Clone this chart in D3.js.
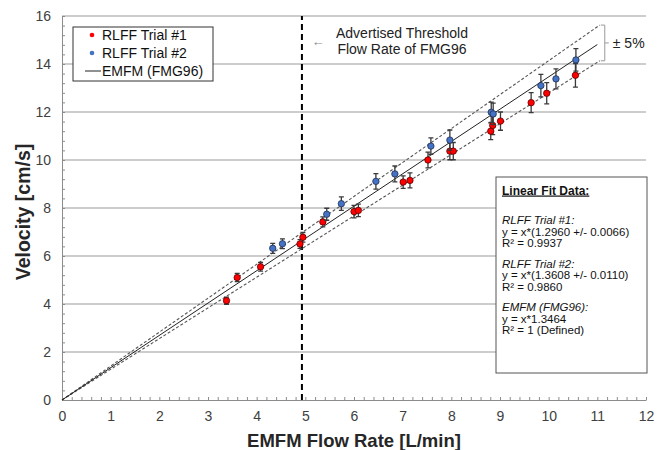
<!DOCTYPE html>
<html>
<head>
<meta charset="utf-8">
<script src="https://cdn.jsdelivr.net/npm/d3@7"></script>
<style>
  body { margin: 0; background: #fff; }
  svg { font-family: "Liberation Sans", Arial, sans-serif; }
</style>
</head>
<body>
<svg id="chart"></svg>
<script>
const width = 665, height = 450, margin = { top: 16, right: 19, bottom: 50, left: 62 };
const plotWidth = width - margin.left - margin.right;
const plotHeight = height - margin.top - margin.bottom;

// RLFF Trial #1 (red)
const trial1X = [3.38, 3.60, 4.08, 4.89, 4.95, 5.36, 6.00, 6.09, 7.01, 7.15, 7.52, 7.97, 8.04, 8.81, 8.85, 9.01, 9.64, 9.96, 10.55];
const trial1Y = [4.14, 5.10, 5.55, 6.50, 6.78, 7.42, 7.85, 7.90, 9.08, 9.15, 10.00, 10.37, 10.37, 11.20, 11.44, 11.62, 12.39, 12.78, 13.53];
const trial1Err = [0.15, 0.17, 0.18, 0.18, 0.20, 0.21, 0.26, 0.26, 0.26, 0.31, 0.33, 0.36, 0.36, 0.35, 0.38, 0.38, 0.42, 0.44, 0.49];

// RLFF Trial #2 (blue)
const trial2X = [4.33, 4.53, 5.44, 5.74, 6.45, 6.84, 7.58, 7.97, 8.82, 8.86, 9.84, 10.15, 10.56];
const trial2Y = [6.32, 6.51, 7.74, 8.18, 9.11, 9.42, 10.58, 10.83, 11.99, 11.92, 13.10, 13.38, 14.17];
const trial2Err = [0.21, 0.20, 0.25, 0.28, 0.32, 0.33, 0.34, 0.42, 0.42, 0.45, 0.47, 0.42, 0.47];

// EMFM reference line and +/- 5% band
const emfmSlope = 1.3464;
const emfmX = [0, 11];
const bandX = [0, 11.05];
const bandFactors = [1.05, 0.95];
const thresholdX = 4.93;

// Text
const legendLabels = ["RLFF Trial #1", "RLFF Trial #2", "EMFM (FMG96)"];
const annotationLines = ["Advertised Threshold", "Flow Rate of FMG96"];
const fitTitle = "Linear Fit Data:";
const fitGroups = [
    ["RLFF Trial #1:", "y = x*(1.2960  +/- 0.0066)", "R² = 0.9937"],
    ["RLFF Trial #2:", "y = x*(1.3608  +/- 0.0110)", "R² = 0.9860"],
    ["EMFM (FMG96):", "y = x*1.3464", "R² = 1 (Defined)"]
];

const trial1 = trial1X.map((x, i) => ({ x, y: trial1Y[i], e: trial1Err[i] }));
const trial2 = trial2X.map((x, i) => ({ x, y: trial2Y[i], e: trial2Err[i] }));

const svg = d3.select("#chart")
    .attr("width", width)
    .attr("height", height)
    .attr("viewBox", [0, 0, width, height]);

const g = svg.append("g")
    .attr("transform", `translate(${margin.left},${margin.top})`);

// Scales
const xScale = d3.scaleLinear().domain([0, 12]).range([0, plotWidth]);
const yScale = d3.scaleLinear().domain([0, 16]).range([plotHeight, 0]);

// Gridlines
g.append("g")
    .selectAll("line")
    .data(d3.range(2, 17, 2))
    .enter()
    .append("line")
    .attr("x1", 0)
    .attr("x2", plotWidth)
    .attr("y1", d => yScale(d))
    .attr("y2", d => yScale(d))
    .attr("stroke", "#bdbdbd")
    .attr("stroke-width", 1.3);

// Minor ticks (inside)
g.append("g")
    .attr("transform", `translate(0,${plotHeight})`)
    .call(d3.axisBottom(xScale).tickValues(d3.range(0, 12.001, 0.2)).tickSizeInner(-3).tickSizeOuter(0).tickFormat(""))
    .call(a => a.selectAll("line").attr("stroke", "#8c8c8c"))
    .call(a => a.select(".domain").attr("stroke", "#8c8c8c"));

g.append("g")
    .call(d3.axisLeft(yScale).tickValues(d3.range(0, 16.001, 0.4)).tickSizeInner(-3).tickSizeOuter(0).tickFormat(""))
    .call(a => a.selectAll("line").attr("stroke", "#8c8c8c"))
    .call(a => a.select(".domain").attr("stroke", "#8c8c8c"));

// Tick labels
g.append("g")
    .attr("transform", `translate(0,${plotHeight})`)
    .call(d3.axisBottom(xScale).ticks(12).tickSize(0).tickPadding(11))
    .call(a => a.select(".domain").remove())
    .call(a => a.selectAll("text").attr("font-size", 14).attr("fill", "#404040").attr("font-family", null));

g.append("g")
    .call(d3.axisLeft(yScale).tickValues(d3.range(0, 17, 2)).tickSize(0).tickPadding(11))
    .call(a => a.select(".domain").remove())
    .call(a => a.selectAll("text").attr("font-size", 14).attr("fill", "#404040").attr("font-family", null));

// Axis titles
svg.append("text")
    .attr("x", 354)
    .attr("y", 447)
    .attr("text-anchor", "middle")
    .attr("font-size", 18.5)
    .attr("font-weight", "bold")
    .attr("fill", "#262626")
    .text("EMFM Flow Rate [L/min]");

svg.append("text")
    .attr("transform", "translate(30,212) rotate(-90)")
    .attr("text-anchor", "middle")
    .attr("font-size", 19.5)
    .attr("font-weight", "bold")
    .attr("fill", "#262626")
    .text("Velocity [cm/s]");

// Threshold line
g.append("line")
    .attr("x1", xScale(thresholdX))
    .attr("x2", xScale(thresholdX))
    .attr("y1", yScale(0))
    .attr("y2", yScale(16))
    .attr("stroke", "#000")
    .attr("stroke-width", 2)
    .attr("stroke-dasharray", "6,4");

// +/- 5% band
const line = d3.line().x(d => xScale(d[0])).y(d => yScale(d[1]));
bandFactors.forEach(f => {
    g.append("path")
        .attr("d", line(bandX.map(x => [x, x * emfmSlope * f])))
        .attr("fill", "none")
        .attr("stroke", "#555")
        .attr("stroke-width", 1.1)
        .attr("stroke-dasharray", "3,2");
});

// EMFM line
g.append("path")
    .attr("d", line(emfmX.map(x => [x, x * emfmSlope])))
    .attr("fill", "none")
    .attr("stroke", "#222")
    .attr("stroke-width", 1);

// Bracket for the band
const bx = xScale(bandX[1]);
const bTop = yScale(bandX[1] * emfmSlope * bandFactors[0]);
const bBot = yScale(bandX[1] * emfmSlope * bandFactors[1]);
g.append("path")
    .attr("d", `M${bx + 1},${bTop} H${bx + 5} V${bBot} H${bx + 1} M${bx + 5},${(bTop + bBot) / 2} H${bx + 9}`)
    .attr("fill", "none")
    .attr("stroke", "#9a9a9a")
    .attr("stroke-width", 1);

g.append("text")
    .attr("x", bx + 13)
    .attr("y", (bTop + bBot) / 2 + 5)
    .attr("font-size", 14)
    .attr("fill", "#222")
    .text("± 5%");

// Error bars and points
function drawSeries(data, fill, stroke) {
    const s = g.append("g");
    s.selectAll(".err")
        .data(data)
        .enter()
        .append("path")
        .attr("d", d => {
            const cx = xScale(d.x), y1 = yScale(d.y + d.e), y2 = yScale(d.y - d.e);
            return `M${cx},${y1} V${y2} M${cx - 2.5},${y1} H${cx + 2.5} M${cx - 2.5},${y2} H${cx + 2.5}`;
        })
        .attr("fill", "none")
        .attr("stroke", "#3a3a3a")
        .attr("stroke-width", 1.3);
    s.selectAll("circle")
        .data(data)
        .enter()
        .append("circle")
        .attr("cx", d => xScale(d.x))
        .attr("cy", d => yScale(d.y))
        .attr("r", 3.2)
        .attr("fill", fill)
        .attr("stroke", stroke)
        .attr("stroke-width", 0.8);
}
drawSeries(trial1, "#ff0000", "#5a0000");
drawSeries(trial2, "#4472c4", "#1f3050");

// Annotation
annotationLines.forEach((t, i) => {
    svg.append("text")
        .attr("x", 402)
        .attr("y", 38 + i * 16)
        .attr("text-anchor", "middle")
        .attr("font-size", 14)
        .attr("fill", "#222")
        .text(t);
});
svg.append("text")
    .attr("x", 318)
    .attr("y", 46)
    .attr("text-anchor", "middle")
    .attr("font-size", 13)
    .attr("fill", "#8a8a8a")
    .text("←");

// Legend
const legend = svg.append("g").attr("transform", "translate(73,27)");
legend.append("rect")
    .attr("width", 140)
    .attr("height", 54)
    .attr("fill", "#fff")
    .attr("stroke", "#333")
    .attr("stroke-width", 1);
legendLabels.forEach((label, i) => {
    const cy = 8 + i * 18;
    if (i < 2) {
        legend.append("circle")
            .attr("cx", 19)
            .attr("cy", cy)
            .attr("r", 2.3)
            .attr("fill", i === 0 ? "#ff0000" : "#4472c4");
    } else {
        legend.append("line")
            .attr("x1", 12).attr("x2", 28)
            .attr("y1", cy).attr("y2", cy)
            .attr("stroke", "#222");
    }
    legend.append("text")
        .attr("x", 29)
        .attr("y", cy + 5)
        .attr("font-size", 14)
        .attr("fill", "#111")
        .text(label);
});

// Linear fit box
const fit = svg.append("g").attr("transform", "translate(496,177)");
fit.append("rect")
    .attr("width", 151)
    .attr("height", 196)
    .attr("fill", "#fff")
    .attr("stroke", "#555")
    .attr("stroke-width", 1);
fit.append("text")
    .attr("x", 6)
    .attr("y", 17.5)
    .attr("font-size", 12)
    .attr("font-weight", "bold")
    .attr("text-decoration", "underline")
    .attr("fill", "#111")
    .text(fitTitle);
fitGroups.forEach((grp, gi) => {
    grp.forEach((t, li) => {
        fit.append("text")
            .attr("x", 6)
            .attr("y", 47 + gi * 43.5 + li * 11.5)
            .attr("font-size", 11.5)
            .attr("font-style", li === 0 ? "italic" : "normal")
            .attr("fill", "#111")
            .text(t);
    });
});
</script>
</body>
</html>
